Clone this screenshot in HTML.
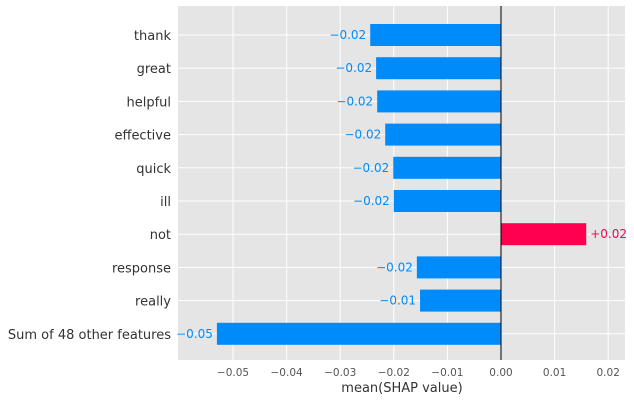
<!DOCTYPE html>
<html><head><meta charset="utf-8"><style>
body{margin:0;background:#fff;font-family:"DejaVu Sans","Liberation Sans",sans-serif;}
</style></head><body>
<svg id="chart" width="634" height="401" xmlns="http://www.w3.org/2000/svg"></svg>
<script>
const features=["thank","great","helpful","effective","quick","ill","not","response","really","Sum of 48 other features"];
const values=[-0.0244,-0.0233,-0.0231,-0.0216,-0.0201,-0.0200,0.0159,-0.0157,-0.0151,-0.0530];
const labels=["\u22120.02","\u22120.02","\u22120.02","\u22120.02","\u22120.02","\u22120.02","+0.02","\u22120.02","\u22120.01","\u22120.05"];
const ticks=[-0.05,-0.04,-0.03,-0.02,-0.01,0,0.01,0.02];
const tickLabels=["\u22120.05","\u22120.04","\u22120.03","\u22120.02","\u22120.01","0.00","0.01","0.02"];
const svg=document.getElementById('chart');const NS="http://www.w3.org/2000/svg";
const L=178,R=625,T=6,B=360,x0=501,scale=5360;
const xs=v=>x0+v*scale;
const ys=i=>35+i*33.2;
function el(t,a,txt){const e=document.createElementNS(NS,t);for(const k in a)e.setAttribute(k,a[k]);if(txt!=null)e.textContent=txt;svg.appendChild(e);return e;}
const bg=el('rect',{x:L,y:T,width:R-L,height:B-T,fill:'#e5e5e5'});


ticks.forEach((t,i)=>{
 const g=el('line',{x1:xs(t),x2:xs(t),y1:T,y2:B,stroke:'#fff','stroke-width':1});
 
 
 const tl=el('text',{x:xs(t),y:376,'font-size':10.5,fill:'#555','text-anchor':'middle'},tickLabels[i]);
 
 
});
features.forEach((f,i)=>{
 const gl=el('line',{x1:L,x2:R,y1:ys(i),y2:ys(i),stroke:'#fff','stroke-width':1});
 
 
});
features.forEach((f,i)=>{
 const v=values[i],y=ys(i);
 const pos=v>0;const col=pos?'#ff0051':'#008bfb';
 const b=el('rect',{x:Math.min(xs(v),x0),y:y-11,width:Math.abs(xs(v)-x0),height:22,fill:col});
 
 
 const vl=el('text',{x:pos?xs(v)+4:xs(v)-4,y:y+4,'font-size':12,fill:col,'text-anchor':pos?'start':'end'},labels[i]);
 
 
 const fl=el('text',{x:171,y:y+5,'font-size':13,fill:'#333','text-anchor':'end'},f);
 
 
});
const zl=el('line',{x1:x0,x2:x0,y1:T,y2:B,stroke:'#000','stroke-width':1});


const xt=el('text',{x:402,y:392,'font-size':13,fill:'#333','text-anchor':'middle'},'mean(SHAP value)');


</script>
</body></html>
